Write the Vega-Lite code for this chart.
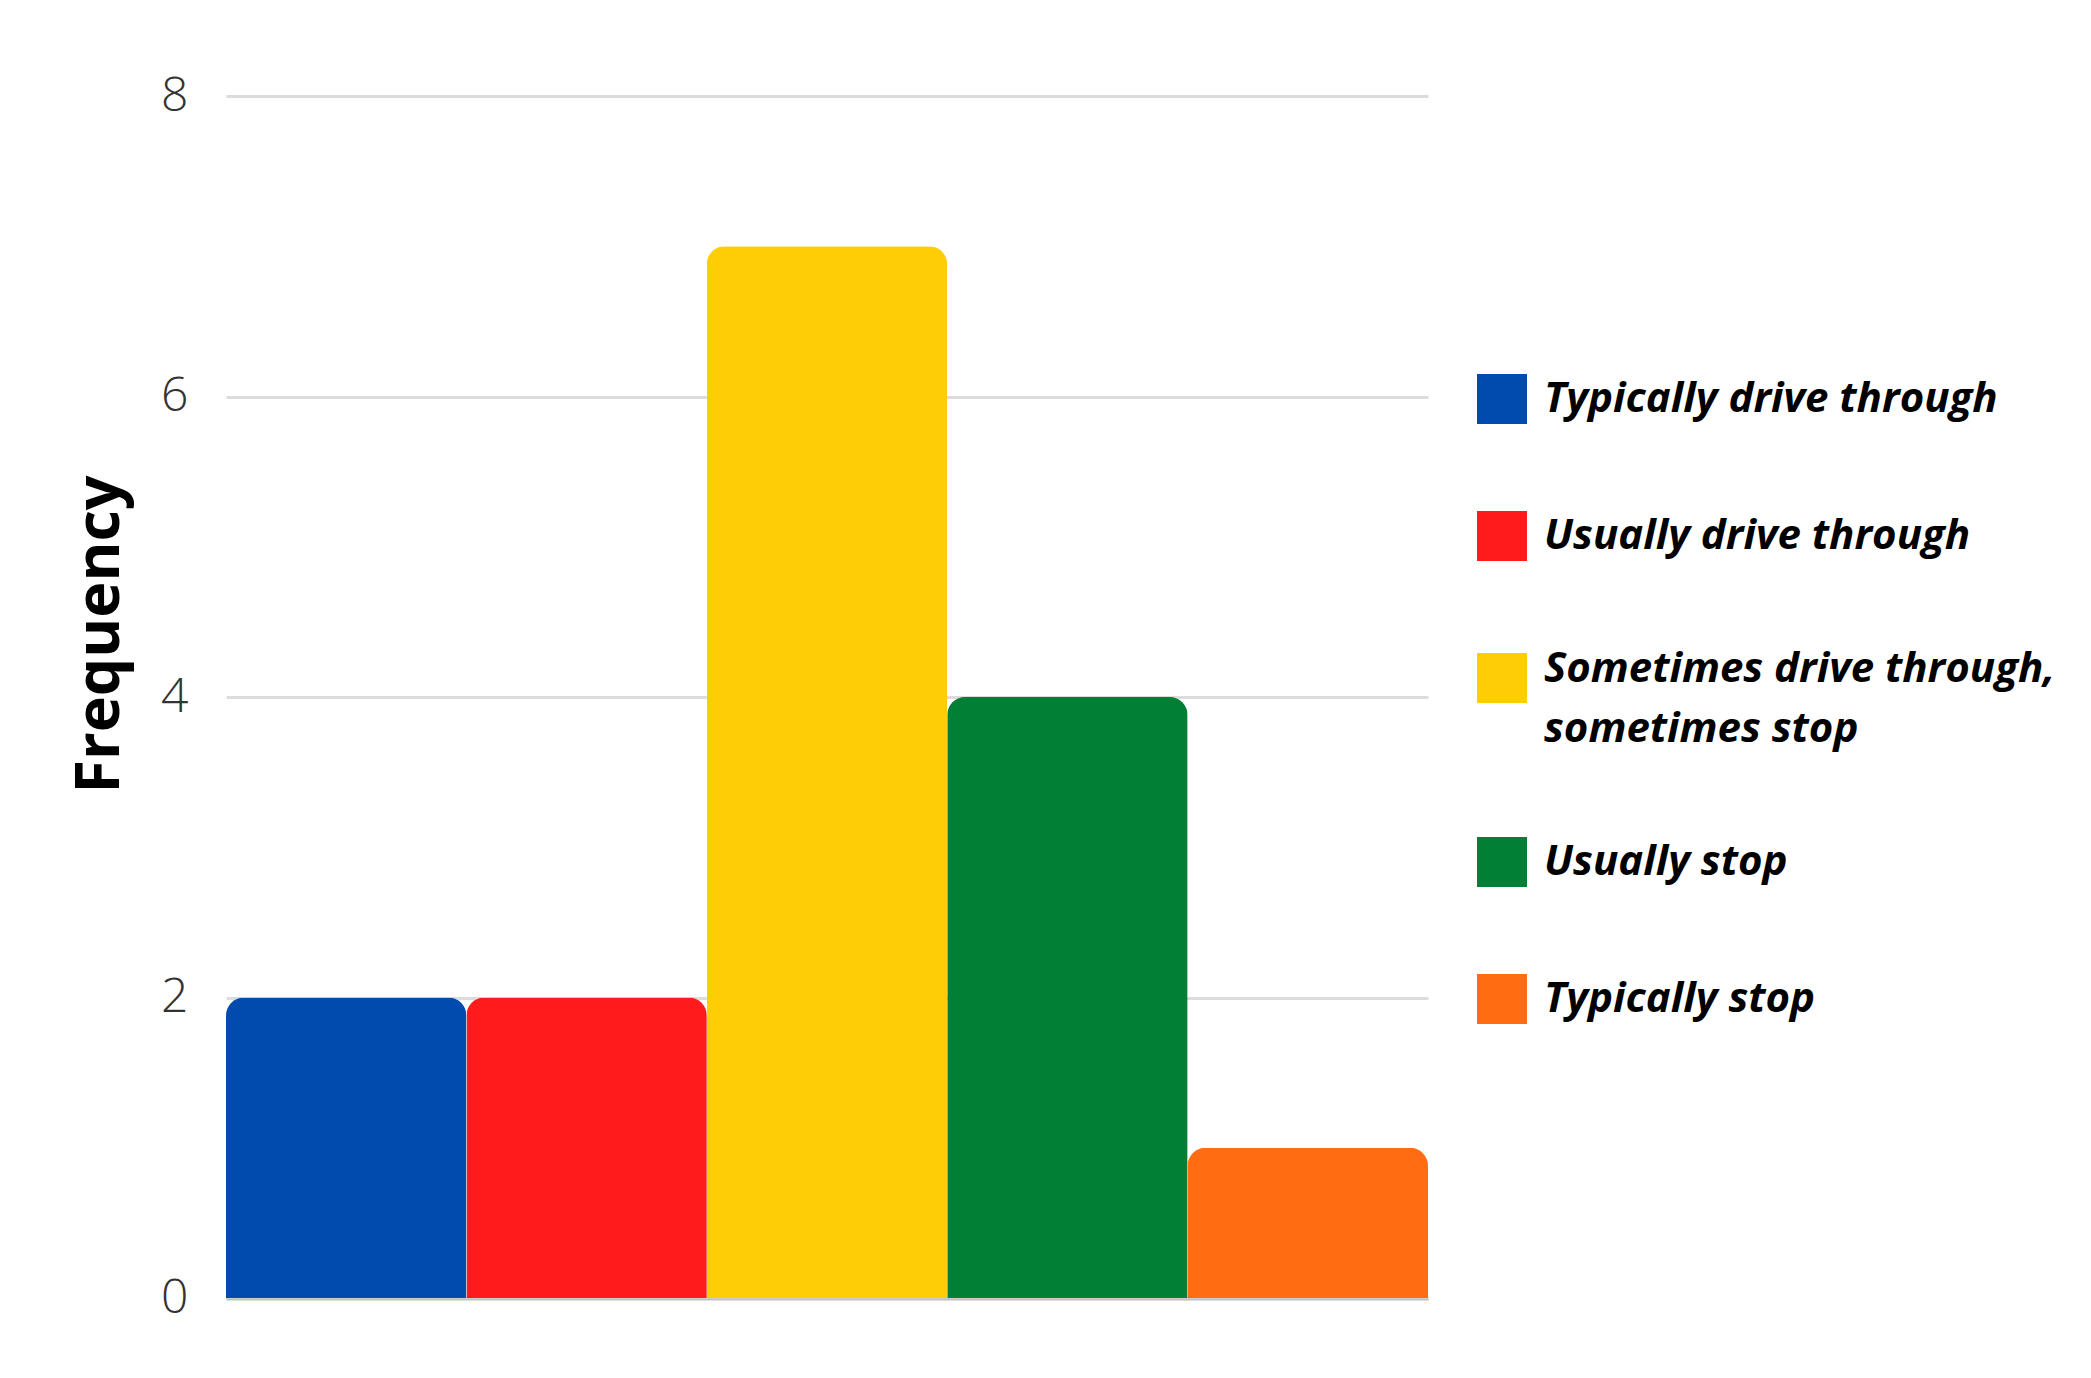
{
  "$schema": "https://vega.github.io/schema/vega-lite/v6.json",
  "width": 1202,
  "height": 1202,
  "autosize": "none",
  "padding": {"left": 226, "top": 96, "right": 663, "bottom": 80},
  "background": "white",
  "config": {"view": {"stroke": null}},
  "data": {
    "values": [
      {"category": "Typically drive through", "frequency": 2},
      {"category": "Usually drive through", "frequency": 2},
      {"category": "Sometimes drive through, sometimes stop", "frequency": 7},
      {"category": "Usually stop", "frequency": 4},
      {"category": "Typically stop", "frequency": 1}
    ]
  },
  "mark": {"type": "bar", "cornerRadiusTopLeft": 18, "cornerRadiusTopRight": 18},
  "encoding": {
    "x": {
      "field": "category",
      "type": "nominal",
      "sort": null,
      "scale": {"paddingInner": 0, "paddingOuter": 0},
      "axis": {"domain": true, "domainColor": "#c0c0c0", "domainWidth": 2, "labels": false, "ticks": false, "title": null, "offset": 1, "grid": false}
    },
    "y": {
      "field": "frequency",
      "type": "quantitative",
      "scale": {"domain": [0, 8]},
      "axis": {
        "values": [0, 2, 4, 6, 8],
        "title": "Frequency",
        "domain": false,
        "ticks": false,
        "labelFont": "Open Sans",
        "labelFontWeight": 300,
        "labelFontSize": 48,
        "labelColor": "#333333",
        "labelPadding": 38,
        "gridColor": "#dcdcdc",
        "gridWidth": 3,
        "titleFont": "Open Sans",
        "titleFontWeight": "bold",
        "titleFontSize": 61,
        "titleColor": "#000000",
        "titleAngle": -90,
        "titleX": -108,
        "titleY": 538,
        "titleAlign": "center",
        "titleBaseline": "alphabetic"
      }
    },
    "color": {
      "field": "category",
      "type": "nominal",
      "sort": null,
      "scale": {
        "domain": ["Typically drive through", "Usually drive through", "Sometimes drive through, sometimes stop", "Usually stop", "Typically stop"],
        "range": ["#004BAD", "#FF1A1C", "#FDCE05", "#007F35", "#FF6C12"]
      },
      "legend": {
        "orient": "none",
        "legendX": 1251,
        "legendY": 278,
        "padding": 0,
        "title": null,
        "symbolType": "square",
        "symbolSize": 2500,
        "symbolStrokeWidth": 0,
        "symbolOpacity": 1,
        "labelFont": "Open Sans",
        "labelFontStyle": "italic",
        "labelFontWeight": "bold",
        "labelFontSize": 42,
        "labelColor": "#000000",
        "labelOffset": 17,
        "rowPadding": 87,
        "labelLimit": 700,
        "labelBaseline": "alphabetic",
        "labelExpr": "datum.label == 'Sometimes drive through, sometimes stop' ? ['Sometimes drive through,', 'sometimes stop'] : datum.label",
        "encode": {"labels": {"update": {"dy": {"signal": "datum.value == 'Sometimes drive through, sometimes stop' ? 4 : 13"}, "lineHeight": {"value": 60}}}}
      }
    }
  }
}
